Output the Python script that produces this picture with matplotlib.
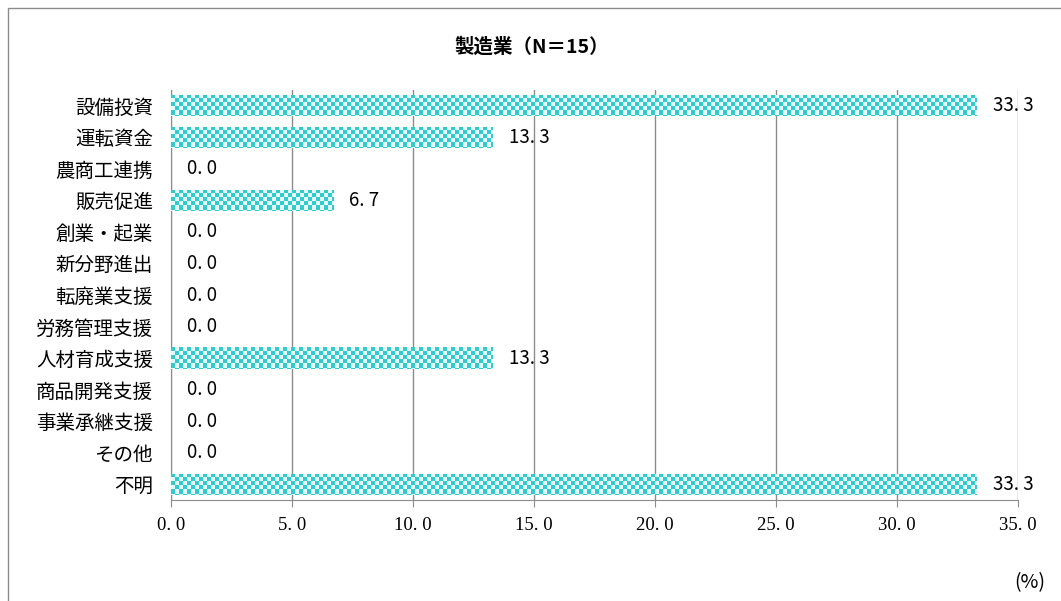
import numpy as np
import matplotlib
matplotlib.use("Agg")
import matplotlib.pyplot as plt
from matplotlib.patches import Rectangle

plt.rcParams['font.family'] = ['Noto Sans CJK JP', 'DejaVu Sans']

categories = ['設備投資', '運転資金', '農商工連携', '販売促進', '創業・起業', '新分野進出',
              '転廃業支援', '労務管理支援', '人材育成支援', '商品開発支援', '事業承継支援',
              'その他', '不明']
values = [33.3, 13.3, 0.0, 6.7, 0.0, 0.0, 0.0, 0.0, 13.3, 0.0, 0.0, 0.0, 33.3]
xticks = [0, 5, 10, 15, 20, 25, 30, 35]
title = '製造業（N＝15）'

W, H, DPI = 1061, 601, 100
fig = plt.figure(figsize=(W / DPI, H / DPI), dpi=DPI)
ax = fig.add_axes([171 / W, 101 / H, 847 / W, 410 / H])

# outer frame of the chart
fig.patches.append(Rectangle((8 / W, -0.05), 1.2, (H - 8) / H + 0.05,
                             transform=fig.transFigure, fill=False,
                             edgecolor='#8c8c8c', linewidth=1.0))

y = np.arange(len(categories))
bars = ax.barh(y, values, height=0.68, color='none', edgecolor='none', zorder=3)

ax.set_xlim(0, 35)
ax.set_ylim(len(categories) - 0.5, -0.5)

# checkered fill clipped to each bar
teal = np.array([0.19, 0.80, 0.80])
light = np.array([0.90, 0.98, 0.98])
px_per_unit = 847 / 35
px_per_row = 410 / len(categories)
cell = 4.0
for bar in bars:
    w = bar.get_width()
    if w <= 0:
        continue
    x0, y0 = bar.get_x(), bar.get_y()
    hgt = bar.get_height()
    nx = int(np.ceil(w * px_per_unit / cell)) + 1
    ny = int(np.ceil(hgt * px_per_row / cell)) + 1
    ii, jj = np.meshgrid(np.arange(nx), np.arange(ny))
    mask = ((ii + jj) % 2 == 0)
    img = np.where(mask[..., None], teal, light)
    im = ax.imshow(img, extent=(x0, x0 + nx * cell / px_per_unit,
                                y0 + ny * cell / px_per_row, y0),
                   interpolation='nearest', aspect='auto', zorder=3)
    im.set_clip_path(bar)

ax.set_xlim(0, 35)
ax.set_ylim(len(categories) - 0.5, -0.5)

for yi, v in zip(y, values):
    ax.text(v + 16 / px_per_unit, yi, f'{v:.1f}'.replace('.', '. '),
            va='center', ha='left', fontsize=13.5, color='black', zorder=4)

ax.set_yticks(y)
ax.set_yticklabels(categories, fontsize=14)
ax.set_xticks(xticks)
ax.set_xticklabels([f'{t:.1f}'.replace('.', '. ') for t in xticks], fontsize=13.5,
                   family=['Liberation Serif', 'DejaVu Serif'])
ax.tick_params(axis='y', length=0, pad=13)
ax.tick_params(axis='x', length=5, color='#8c8c8c', pad=7)

ax.grid(axis='x', color='#8c8c8c', linewidth=1.0, zorder=1)
ax.set_axisbelow(True)
for s in ['top', 'right']:
    ax.spines[s].set_visible(False)
ax.spines['left'].set_color('#8c8c8c')
ax.spines['bottom'].set_color('#8c8c8c')

fig.text(532 / W, 1 - 47 / H, title, ha='center', va='center',
         fontsize=14, fontweight='bold')
fig.text(1030 / W, 1 - 583 / H, '(%)', ha='center', va='center', fontsize=14)

fig.savefig('out.png', dpi=DPI)
